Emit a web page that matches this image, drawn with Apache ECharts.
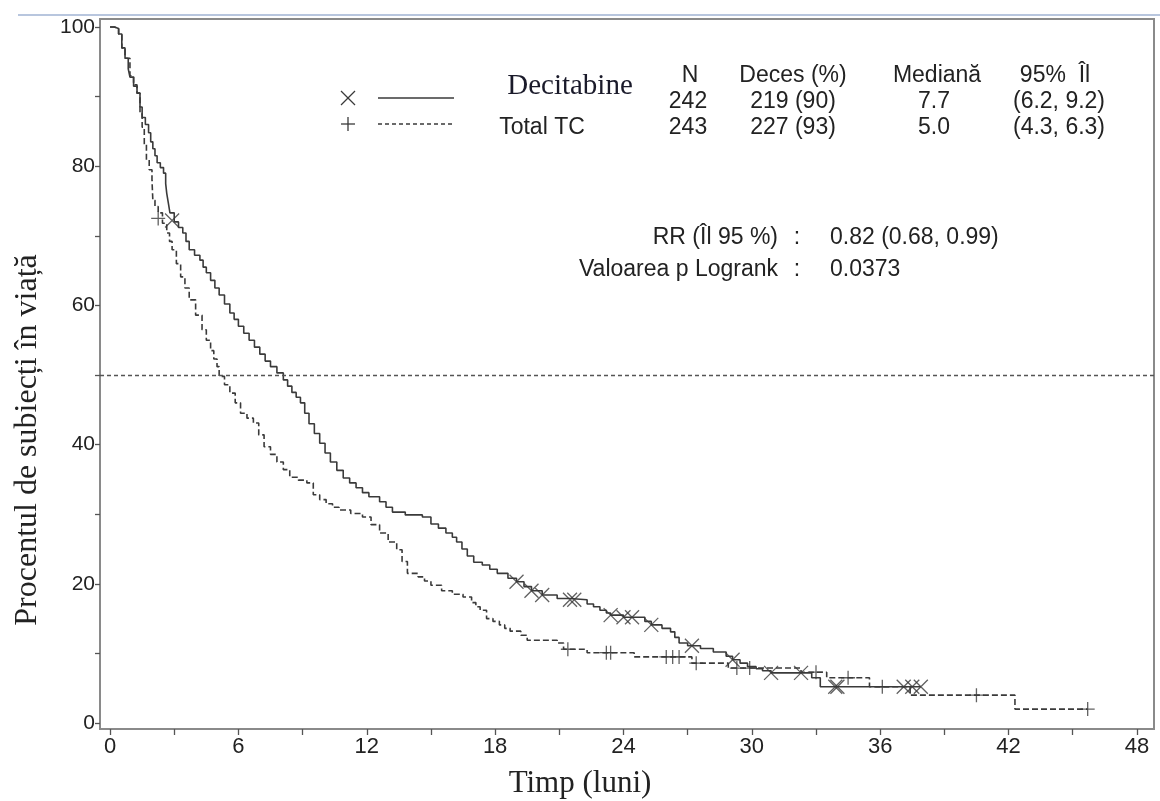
<!DOCTYPE html>
<html>
<head>
<meta charset="utf-8">
<script src="https://cdn.jsdelivr.net/npm/echarts@6/dist/echarts.min.js"></script>
<style>
html,body{margin:0;padding:0;background:#fff;}
#chart{width:1160px;height:801px;}
</style>
</head>
<body>
<div id="chart"></div>
<script>
// ---- Data ----
const xLabelValues = [0, 6, 12, 18, 24, 30, 36, 42, 48];
const xTickValues = [0, 3, 6, 9, 12, 15, 18, 21, 24, 27, 30, 33, 36, 39, 42, 45, 48];
const yLabelValues = [0, 20, 40, 60, 80, 100];
const yTickValues = [0, 10, 20, 30, 40, 50, 60, 70, 80, 90, 100];

// Decitabine KM curve: [time (months), % alive]
const decitabineCurve = [
  [0,100],[0.2,99.8],[0.4,99],[0.55,97],[0.7,95.5],[0.85,94],[0.93,92.8],[1.1,91.5],
  [1.26,90.5],[1.4,88.5],[1.5,87],[1.65,86],[1.8,84.8],[1.9,83.5],[2.0,82.5],[2.1,81.5],
  [2.2,80.5],[2.35,79.8],[2.5,79],[2.6,77.5],[2.65,76.1],[2.72,74.8],[2.8,73.3],[3.0,72],
  [3.2,71.2],[3.4,70.4],[3.55,69.2],[3.7,68],[3.95,67.2],[4.2,66.5],[4.35,65.5],[4.5,64.7],
  [4.7,63.6],[4.9,62.5],[5.1,61.5],[5.35,60.2],[5.6,58.9],[5.8,58],[6.0,57],[6.25,56],
  [6.5,55],[6.75,54],[7.0,53],[7.25,52],[7.5,51.2],[7.8,50.3],[8.1,49.3],[8.3,48.4],
  [8.5,47.5],[8.7,46.8],[8.9,46],[9.1,44.5],[9.3,43],[9.55,41.6],[9.8,40.2],[10.05,38.8],
  [10.3,37.5],[10.6,36.3],[10.9,35.2],[11.2,34.5],[11.5,33.8],[11.8,33.1],[12.1,32.5],
  [12.6,31.8],[12.9,31],[13.2,30.3],[13.8,29.9],[14.6,29.6],[15.0,28.6],[15.35,28],
  [15.7,27.3],[16.0,26.7],[16.2,26.0],[16.45,25],[16.7,24.0],[17.0,23.1],[17.4,22.7],
  [17.75,22.1],[18.1,21.5],[18.6,20.8],[19.0,20.3],[19.35,19.6],[19.7,19.0],[20.2,18.4],
  [20.9,17.9],[21.5,17.7],[22.3,17.1],[22.6,16.7],[22.9,16.2],[23.2,15.8],[23.4,15.5],
  [24.0,15.2],[25.0,14.6],[25.3,14.1],[25.8,13.6],[26.2,13.1],[26.4,12.3],[26.6,11.5],
  [27.0,11.1],[27.6,10.7],[28.2,10.2],[28.8,9.6],[29.1,9.1],[29.45,8.6],[29.8,8.1],
  [30.2,7.8],[30.5,7.5],[30.9,7.2],[32.8,6.5],[33.2,5.2],[37.9,5.2]
];
const decitabineCensored = [
  [2.9,72.2],[19.0,20.3],[19.7,19.0],[20.2,18.4],[21.5,17.7],[21.7,17.7],[23.4,15.5],
  [24.0,15.2],[24.4,15.2],[25.3,14.1],[27.2,11.1],[29.1,9.1],[30.9,7.2],[32.3,7.2],
  [33.9,5.2],[34.0,5.2],[37.1,5.2],[37.5,5.2],[37.9,5.2]
];

// Total TC KM curve
const tcCurve = [
  [0,100],[0.2,99.8],[0.4,99],[0.55,97],[0.7,95.5],[0.93,93],[1.1,91.7],[1.26,90.5],
  [1.4,87.5],[1.5,85.6],[1.6,83.2],[1.7,80.9],[1.83,79.5],[1.96,78],[2.0,75.1],[2.1,74.2],
  [2.25,73.3],[2.45,71.8],[2.65,70.4],[2.78,69.2],[2.9,68],[3.1,66],[3.3,64.1],[3.5,62.5],
  [3.7,60.8],[4.0,58.6],[4.3,56.5],[4.5,55],[4.7,53.5],[4.85,52.3],[5.0,51.2],[5.1,49.8],
  [5.35,48.6],[5.6,47.4],[5.85,46],[6.1,44.5],[6.4,43.8],[6.7,43.1],[6.95,41.4],[7.2,39.7],
  [7.5,38.6],[7.8,37.5],[8.1,36.4],[8.4,35.3],[8.8,34.9],[9.2,34.5],[9.5,32.8],[9.8,32.1],
  [10.1,31.5],[10.4,31],[10.7,30.6],[11.25,30.1],[11.8,29.6],[12.2,28.5],[12.6,27.3],
  [13.0,26.0],[13.4,24.9],[13.65,23.2],[13.9,21.5],[14.4,21.0],[14.7,20.4],[15.0,19.8],
  [15.5,19.0],[16.0,18.5],[16.5,18.1],[16.9,17.3],[17.1,16.7],[17.3,16.2],[17.6,15.0],
  [17.9,14.6],[18.2,14.1],[18.45,13.6],[18.7,13.2],[19.2,12.6],[19.5,11.9],[20.9,11.5],
  [21.2,10.6],[22.3,10.1],[24.5,9.5],[27.2,8.6],[28.9,7.9],[32.3,7.3],[33.5,6.5],
  [35.5,5.2],[37.4,4.0],[42.3,2.0],[45.7,2.0]
];
const tcCensored = [
  [2.25,72.5],[21.4,10.6],[23.2,10.1],[23.4,10.1],[26.0,9.5],[26.3,9.5],[26.6,9.5],
  [27.4,8.6],[29.3,7.9],[29.9,7.9],[33.0,7.3],[34.5,6.5],[36.1,5.2],[40.5,4.0],[45.7,2.0]
];

const medianLine = 50;

// Table texts
const tableHeader = ['N', 'Deces (%)', 'Mediană', '95%  Îl'];
const rowDecitabine = ['242', '219 (90)', '7.7', '(6.2, 9.2)'];
const rowTC = ['243', '227 (93)', '5.0', '(4.3, 6.3)'];
const statLabels = ['RR (Îl 95 %)', 'Valoarea p Logrank'];
const statValues = ['0.82 (0.68, 0.99)', '0.0373'];

// ---- Chart ----
const chart = echarts.init(document.getElementById('chart'), null, {renderer: 'canvas'});
const ink = '#3a3a3a';
const sans = 'Liberation Sans, Arial, sans-serif';
const serif = 'Liberation Serif, Times New Roman, serif';
const crossPath = 'path://M0,0L10,10M10,0L0,10';
const plusPath = 'path://M5,0L5,10M0,5L10,5';

const headX = [690, 793, 937, 1055];
const rowX = [688, 793, 934, 1059];
function txt(x, y, s, opts) {
  return {
    type: 'text', x: x, y: y,
    style: Object.assign({text: s, fill: '#222', font: '23px ' + sans, textAlign: 'center', textVerticalAlign: 'middle'}, opts || {})
  };
}
const graphics = [];
graphics.push({type: 'line', shape: {x1: 18, y1: 15, x2: 1160, y2: 15}, style: {stroke: '#b8c6de', lineWidth: 2}});
tableHeader.forEach((s, i) => graphics.push(txt(headX[i], 76, s)));
rowDecitabine.forEach((s, i) => graphics.push(txt(rowX[i], 102, s)));
rowTC.forEach((s, i) => graphics.push(txt(rowX[i], 128, s)));
graphics.push(txt(570, 86, 'Decitabine', {font: '29px ' + serif, fill: '#1a1a2a'}));
graphics.push(txt(542, 128, 'Total TC'));
// legend glyphs
graphics.push({type: 'polyline', shape: {points: [[341, 91], [355, 105]]}, style: {stroke: ink, lineWidth: 1.3}});
graphics.push({type: 'polyline', shape: {points: [[355, 91], [341, 105]]}, style: {stroke: ink, lineWidth: 1.3}});
graphics.push({type: 'line', shape: {x1: 378, y1: 98, x2: 454, y2: 98}, style: {stroke: ink, lineWidth: 1.5}});
graphics.push({type: 'line', shape: {x1: 348, y1: 117, x2: 348, y2: 131}, style: {stroke: ink, lineWidth: 1.3}});
graphics.push({type: 'line', shape: {x1: 341, y1: 124, x2: 355, y2: 124}, style: {stroke: ink, lineWidth: 1.3}});
graphics.push({type: 'line', shape: {x1: 378, y1: 124, x2: 454, y2: 124}, style: {stroke: ink, lineWidth: 1.5, lineDash: [4, 3]}});
// stats
statLabels.forEach((s, i) => {
  const y = 238 + i * 32;
  graphics.push(txt(778, y, s, {textAlign: 'right'}));
  graphics.push(txt(797, y, ':'));
  graphics.push(txt(830, y, statValues[i], {textAlign: 'left'}));
});
// axis titles
graphics.push({type: 'text', x: 28, y: 440, rotation: Math.PI / 2,
  style: {text: 'Procentul de subiecți în viață', fill: '#222', font: '32px ' + serif, textAlign: 'center', textVerticalAlign: 'middle'}});
graphics.push(txt(580, 784, 'Timp (luni)', {font: '31px ' + serif}));

const option = {
  animation: false,
  backgroundColor: '#fff',
  grid: {left: 100, right: 6, top: 19, bottom: 72, show: true, borderColor: '#8a8a8a', borderWidth: 2},
  xAxis: {
    type: 'value', min: -0.47, max: 48.8,
    axisLine: {show: true, onZero: false, lineStyle: {color: '#8a8a8a', width: 2}},
    axisTick: {show: true, customValues: xTickValues, length: 6, lineStyle: {color: '#555', width: 1.3}},
    axisLabel: {customValues: xLabelValues, fontFamily: sans, fontSize: 22, color: '#222', margin: 7},
    splitLine: {show: false}
  },
  yAxis: {
    type: 'value', min: -0.86, max: 101.15,
    axisLine: {show: true, onZero: false, lineStyle: {color: '#8a8a8a', width: 2}},
    axisTick: {show: true, customValues: yTickValues, length: 5, lineStyle: {color: '#555', width: 1.3}},
    axisLabel: {customValues: yLabelValues, fontFamily: sans, fontSize: 21, color: '#222', margin: 5},
    splitLine: {show: false}
  },
  series: [
    {
      name: 'Decitabine', type: 'line', step: 'end', data: decitabineCurve, showSymbol: false,
      lineStyle: {color: ink, width: 1.6}, z: 3,
      markLine: {silent: true, symbol: 'none', label: {show: false},
        lineStyle: {color: '#555', type: [4, 3], width: 1.3}, data: [{yAxis: medianLine}]}
    },
    {
      name: 'Total TC', type: 'line', step: 'end', data: tcCurve, showSymbol: false,
      lineStyle: {color: ink, width: 1.6, type: [6, 3]}, z: 3
    },
    {
      type: 'scatter', data: decitabineCensored, symbol: crossPath, symbolSize: 14,
      itemStyle: {color: 'rgba(0,0,0,0)', borderColor: ink, borderWidth: 1.3}, z: 4
    },
    {
      type: 'scatter', data: tcCensored, symbol: plusPath, symbolSize: 14,
      itemStyle: {color: 'rgba(0,0,0,0)', borderColor: ink, borderWidth: 1.3}, z: 4
    }
  ],
  graphic: graphics
};
chart.setOption(option);
</script>
</body>
</html>
